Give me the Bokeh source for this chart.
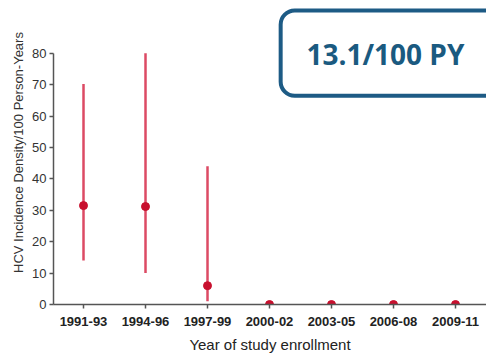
import math
from bokeh.plotting import figure
from bokeh.models import FixedTicker, BoxAnnotation, Label, Range1d
from bokeh.embed import file_html
from bokeh.resources import INLINE

periods = ["1991-93", "1994-96", "1997-99", "2000-02", "2003-05", "2006-08", "2009-11"]
incidence = [31.5, 31.2, 6.0, 0, 0, 0, 0]
ci_low = [14.0, 10.0, 1.0, 0, 0, 0, 0]
ci_high = [70.2, 80.0, 44.0, 0, 0, 0, 0]
y_ticks = [0, 10, 20, 30, 40, 50, 60, 70, 80]
summary_text = "13.1/100 PY"
y_title = "HCV Incidence Density/100 Person-Years"
x_title = "Year of study enrollment"

pos = list(range(len(periods)))

p = figure(width=486, height=355, x_range=Range1d(-0.484, 6.5), y_range=Range1d(0, 96.83),
           output_backend="svg", toolbar_location=None,
           title=y_title, title_location="left",
           min_border_left=53, min_border_right=0, min_border_top=0, min_border_bottom=50)
p.background_fill_color = "white"
p.border_fill_color = "white"
p.outline_line_color = None
p.xgrid.visible = False
p.ygrid.visible = False

p.title.text_font = "Liberation Sans"
p.title.text_font_style = "normal"
p.title.text_font_size = "13px"
p.title.text_color = "#333333"
p.title.align = "center"
p.title.offset = -40
p.title.standoff = 7

# error bars and points
p.segment(x0=pos, y0=ci_low, x1=pos, y1=ci_high, line_color="#dc4a64", line_width=2.5)
p.scatter(pos, incidence, size=8, color="#c8102e")

# axes
xa = p.xaxis[0]
xa.ticker = FixedTicker(ticks=pos)
xa.major_label_overrides = {i: s for i, s in enumerate(periods)}
xa.axis_label = x_title
xa.axis_label_text_font = "Liberation Sans"
xa.axis_label_text_font_style = "normal"
xa.axis_label_text_font_size = "15px"
xa.axis_label_text_color = "#222222"
xa.axis_label_standoff = 7
xa.major_label_text_font = "Liberation Sans"
xa.major_label_text_font_style = "bold"
xa.major_label_text_font_size = "13px"
xa.major_label_text_color = "#222222"
xa.major_label_standoff = 8
xa.major_tick_out = 4
xa.major_tick_in = 0
xa.minor_tick_out = 0
xa.minor_tick_in = 0
xa.axis_line_color = "#555555"
xa.axis_line_width = 1.5
xa.major_tick_line_color = "#555555"
xa.major_tick_line_width = 1.5

ya = p.yaxis[0]
ya.ticker = FixedTicker(ticks=y_ticks)
ya.bounds = (0, 80)
ya.major_label_text_font = "Liberation Sans"
ya.major_label_text_font_size = "13px"
ya.major_label_text_color = "#333333"
ya.major_label_standoff = 3
ya.major_tick_out = 4
ya.major_tick_in = 0
ya.minor_tick_out = 0
ya.minor_tick_in = 0
ya.axis_line_color = "#555555"
ya.axis_line_width = 1.5
ya.major_tick_line_color = "#555555"
ya.major_tick_line_width = 1.5

# summary box
p.add_layout(BoxAnnotation(left=3.18, right=7.5, top=93.65, bottom=66.5,
                           fill_color=None, line_color="#1d5b85", line_alpha=1.0, line_width=4,
                           border_radius=14))
p.add_layout(Label(x=4.87, y=79.7, text=summary_text, text_align="center", text_baseline="middle",
                   text_font="Open Sans", text_font_style="bold", text_font_size="28px",
                   text_color="#1a5a80"))

open("out.html", "w").write(file_html(p, INLINE))
